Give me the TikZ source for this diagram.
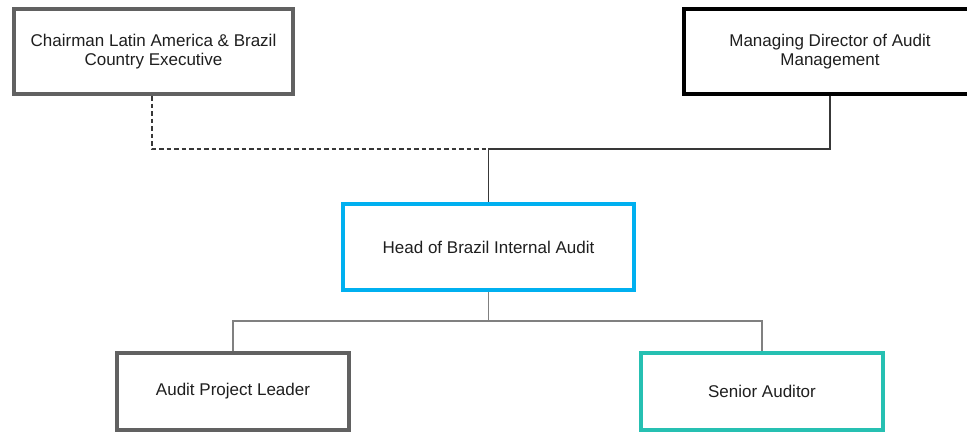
\documentclass[tikz,border=0pt]{standalone}
\usepackage{fontspec}
\setmainfont{Liberation Sans}
\begin{document}
\begin{tikzpicture}[x=1bp,y=-1bp,
  txt/.style={font=\fontsize{17bp}{18.5bp}\selectfont, text=black!88, align=center},
  orgbox/.style={txt, draw, line width=4bp, fill=white, inner sep=0pt},
  greybox/.style={orgbox, draw=black!62},
  blackbox/.style={orgbox, draw=black},
  cyanbox/.style={orgbox, draw={rgb,255:red,0;green,176;blue,240}},
  tealbox/.style={orgbox, draw={rgb,255:red,38;green,192;blue,178}},
  upper/.style={line width=1.3bp, draw=black!78},
  lower/.style={line width=1.3bp, draw=black!50},
  dotted link/.style={upper, dash pattern=on 4.5bp off 3bp}
]
\useasboundingbox (0,0) rectangle (967,432);

% boxes, sized by their stroke centre lines
\node[greybox, minimum width=279bp, minimum height=85bp] (chair) at (153.5,51.5)
  {Chairman Latin America \& Brazil\\Country Executive};
\node[blackbox, minimum width=292bp, minimum height=85bp] (md) at (830,51.5)
  {Managing Director of Audit\\Management};
\node[cyanbox, minimum width=291bp, minimum height=86bp] (head) at (488.5,247)
  {Head of Brazil Internal Audit};
\node[greybox, minimum width=232bp, minimum height=77bp] (apl) at (233,391.5)
  {Audit Project Leader};
\node[tealbox, minimum width=242bp, minimum height=77bp] (sa) at (762,391.5)
  {Senior Auditor};

% junction points
\coordinate (jtop) at (488.5,149);
\coordinate (jbot) at (488.5,321);

% reporting lines
\draw[dotted link] (chair.south -| 152,0) |- (jtop);
\draw[upper] (md.south) |- (jtop) -- (head.north);
\draw[lower] (head.south) -- (jbot);
\draw[lower] (apl.north) |- (jbot) -| (sa.north);
\end{tikzpicture}
\end{document}
